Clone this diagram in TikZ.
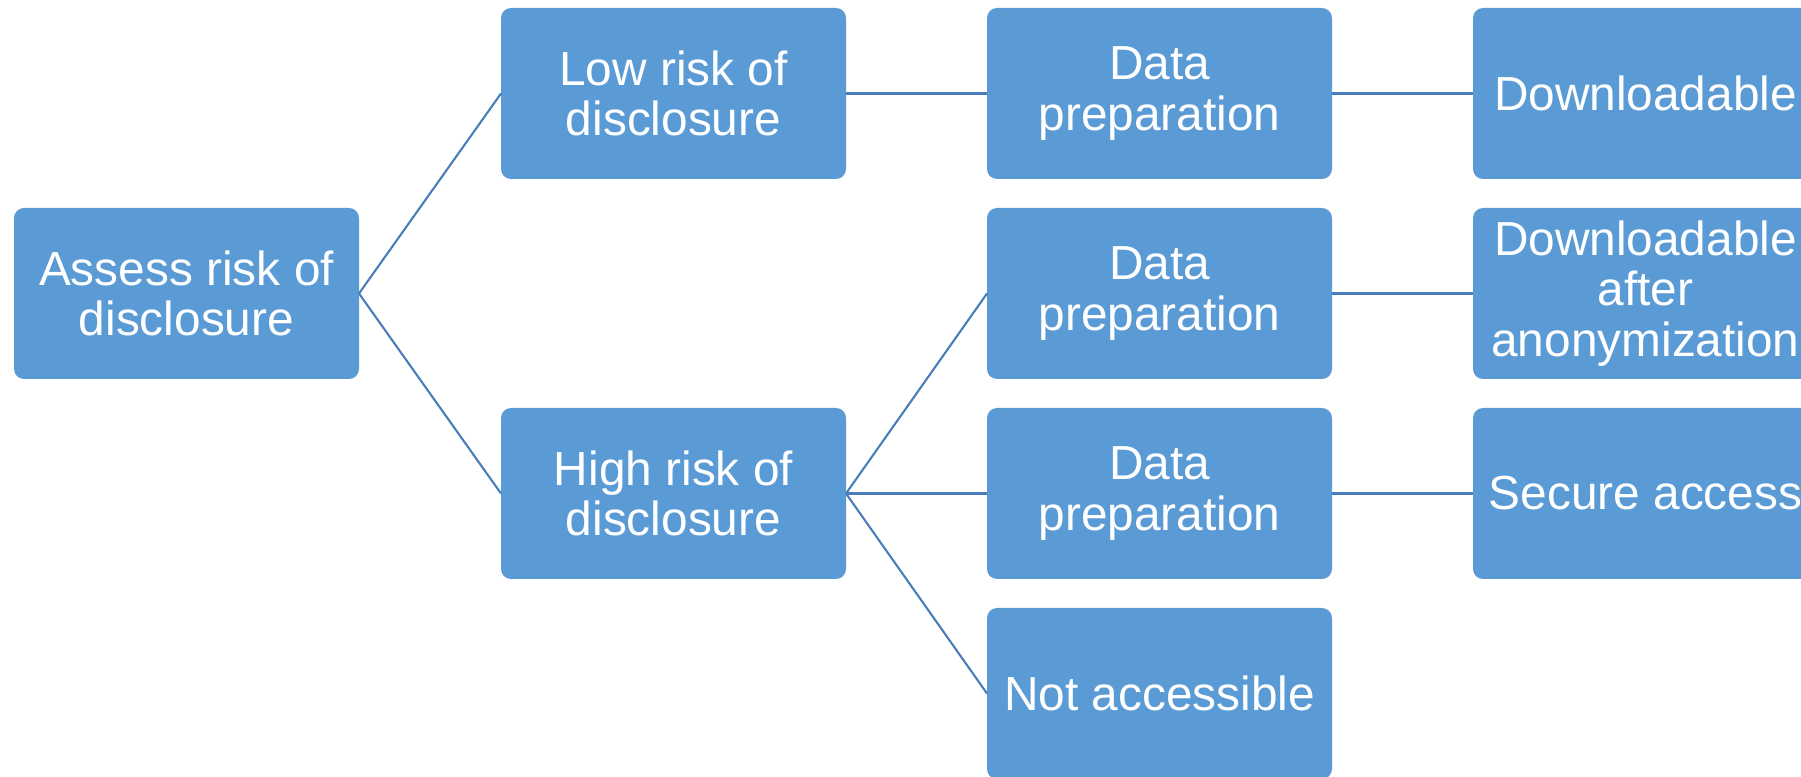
\documentclass[tikz,border=0pt]{standalone}
\usepackage{fontspec}
\setmainfont{Liberation Sans}
\usetikzlibrary{positioning}
\definecolor{boxfill}{HTML}{5B9BD5}
\definecolor{linkline}{HTML}{4A7EBB}
\tikzset{box/.style = {rectangle, rounded corners=0.1cm, fill=boxfill, text=white,
    minimum width=3.45cm, minimum height=1.71cm, inner sep=0pt, outer sep=0pt, align=center,
    font=\fontsize{13.6}{14.4}\selectfont}}
\tikzset{link/.style = {draw=linkline, line width=0.6pt}}

\begin{document}
\begin{tikzpicture}
    \clip (0,0) rectangle (18.01,-7.77);
    \useasboundingbox (0,0) rectangle (18.01,-7.77);
    \node[box] (assess) at (1.865,-2.935) {Assess risk of\\disclosure};
    \node[box] (low) at (6.735,-0.935) {Low risk of\\disclosure};
    \node[box] (high) at (6.735,-4.935) {High risk of\\disclosure};
    \node[box] (prepA) at (11.595,-0.935) {Data\\preparation};
    \node[box, below=0.29cm of prepA] (prepB) {Data\\preparation};
    \node[box, below=0.29cm of prepB] (prepC) {Data\\preparation};
    \node[box, below=0.29cm of prepC] (notacc) {Not accessible};
    \node[box] (down) at (16.455,-0.935) {Downloadable};
    \node[box, below=0.29cm of down] (downanon) {Downloadable\\after\\anonymization};
    \node[box, below=0.29cm of downanon] (secure) {Secure access};
    \draw[link] (assess.east) -- (low.west);
    \draw[link] (assess.east) -- (high.west);
    \draw[link] (low.east) -- (prepA.west);
    \draw[link] (high.east) -- (prepB.west);
    \draw[link] (high.east) -- (prepC.west);
    \draw[link] (high.east) -- (notacc.west);
    \draw[link] (prepA.east) -- (down.west);
    \draw[link] (prepB.east) -- (downanon.west);
    \draw[link] (prepC.east) -- (secure.west);
\end{tikzpicture}
\end{document}
